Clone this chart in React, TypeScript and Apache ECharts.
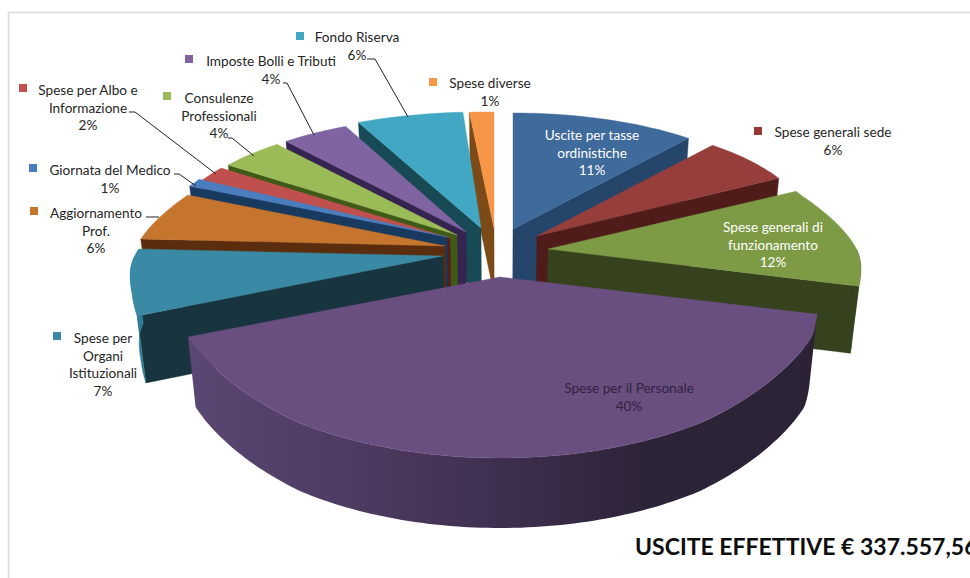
import React, { useEffect, useRef } from "react";
import * as echarts from "echarts";

const categories = [
  "Uscite per tasse\nordinistiche",
  "Spese generali sede",
  "Spese generali di\nfunzionamento",
  "Spese per il Personale",
  "Spese per\nOrgani\nIstituzionali",
  "Aggiornamento\nProf.",
  "Giornata del Medico",
  "Spese per Albo e\nInformazione",
  "Consulenze\nProfessionali",
  "Imposte Bolli e Tributi",
  "Fondo Riserva",
  "Spese diverse",
];
const values = [11, 6, 12, 40, 7, 6, 1, 2, 4, 4, 6, 1];
const titleText = "USCITE EFFETTIVE € 337.557,56";

const topColors = ["#3f6a9c", "#953e3c", "#7d9a45", "#694e80", "#3b8aa5", "#c6752f", "#4a7ebf", "#c0504d", "#9bbb59", "#8064a2", "#41a7c3", "#f79646"];
const wallColors = ["#26456b", "#4f1c1a", "#36411d", "#2d2338", "#17343f", "#5a2d0e", "#173a5e", "#5a1c1a", "#3f5a17", "#35244f", "#174a54", "#7c4a16"];
const rimColors = ["#26456b", "#6a2a28", "#36411d", "#463557", "#2d7d96", "#5a2d0e", "#173a5e", "#5a1c1a", "#3f5a17", "#35244f", "#174a54", "#7c4a16"];
const swatchColors = ["#3f6a9c", "#953735", "#9bbb59", "#694e80", "#3b8aa5", "#c6752f", "#4a7ebf", "#c0504d", "#9bbb59", "#8064a2", "#41a7c3", "#f79646"];

// layout of the exploded perspective pie
const center = [480, 240];
const sliceOffset = [[33, -11], [57, -4], [68, 9], [20, 37], [-37, 16], [-35, 6], [-33, -3], [-30, -2], [-23, -5], [-14, -8], [1, -12], [14, -12]];
const radiusXScale = [0.975, 0.975, 1, 1.02, 1, 1, 1, 1, 1, 1, 1.02, 1.39];
const sliceDepth = [67, 67, 67, 70, 67, 67, 67, 67, 67, 67, 67, 67];
const paintOrder = [11, 10, 9, 8, 7, 6, 5, 4, 0, 1, 2, 3];
const radiusXByCos = [[-1, 338], [-0.8, 335], [-0.37, 329], [-0.25, 321], [-0.1, 314], [0.06, 305], [0.45, 283], [1, 282]];
const radiusYByCos = [[-1, 181], [-0.8, 180], [-0.37, 163], [-0.25, 150], [0.06, 112], [0.2, 115], [0.45, 120], [1, 116]];
const VANISH_X = 500;
const SHRINK = 0.024;

// label layout: centre x, first-line y, swatch x, swatch y, colour
const labelLayout: any[] = [
  [592, 135, null, null, "#ffffff"],
  [833, 132, 758, 131, "#262626"],
  [773, 227, null, null, "#ffffff"],
  [629, 388, null, null, "#2f2540"],
  [103, 338, 57, 336, "#262626"],
  [96, 213, 34, 211, "#262626"],
  [110, 170, 33, 168, "#262626"],
  [88, 90, 23, 88, "#262626"],
  [219, 98, 167, 96, "#262626"],
  [271, 61, 189, 59, "#262626"],
  [357, 37, 300, 36, "#262626"],
  [490, 83, 433, 82, "#262626"],
];
const leaderLines = [
  [[367, 59], [375, 59], [408, 117]],
  [[283, 83], [287, 83], [314, 135]],
  [[228, 138], [232, 138], [254, 156]],
  [[129, 112], [135, 112], [216, 174]],
  [[174, 174], [179, 174], [196, 186]],
  [[146, 217], [159, 217]],
];

const total = values.reduce((a, b) => a + b, 0);
const startAngles = values.map((_, i) => (values.slice(0, i).reduce((a, b) => a + b, 0) / total) * 2 * Math.PI);
const endAngles = values.map((v, i) => startAngles[i] + (v / total) * 2 * Math.PI);

function lookup(table: number[][], c: number) {
  for (let i = 0; i < table.length - 1; i++) {
    const [c0, r0] = table[i];
    const [c1, r1] = table[i + 1];
    if (c <= c1) return r0 + ((r1 - r0) * (c - c0)) / (c1 - c0);
  }
  return table[table.length - 1][1];
}

function rimPoint(i: number, a: number) {
  const c = Math.cos(a);
  const ax = center[0] + sliceOffset[i][0];
  const ay = center[1] + sliceOffset[i][1];
  return [ax + lookup(radiusXByCos, c) * radiusXScale[i] * Math.sin(a), ay - lookup(radiusYByCos, c) * c];
}
const lower = (p: number[], i: number) => [p[0] + (VANISH_X - p[0]) * SHRINK, p[1] + sliceDepth[i]];

function arcPoints(i: number, from: number, to: number) {
  const n = Math.max(2, Math.ceil((to - from) / 0.02));
  const pts: number[][] = [];
  for (let k = 0; k <= n; k++) pts.push(rimPoint(i, from + ((to - from) * k) / n));
  return pts;
}

function renderSlice(params: any) {
  const i = paintOrder[params.dataIndex];
  const a0 = startAngles[i];
  const a1 = endAngles[i];
  const apex = [center[0] + sliceOffset[i][0], center[1] + sliceOffset[i][1]];
  const apexLow = lower(apex, i);
  const children: any[] = [];
  const poly = (points: number[][], fill: any, z: number) => ({
    type: "polygon",
    z2: params.dataIndex * 10 + z,
    shape: { points },
    style: { fill, stroke: typeof fill === "string" ? fill : undefined, lineWidth: typeof fill === "string" ? 0.4 : 0 },
    silent: true,
  });
  if (a1 < Math.PI) {
    const p = rimPoint(i, a1);
    children.push(poly([apex, p, lower(p, i), apexLow], wallColors[i], 1));
  }
  if (a0 > Math.PI) {
    const p = rimPoint(i, a0);
    children.push(poly([apex, p, lower(p, i), apexLow], wallColors[i], 1));
  }
  const f0 = Math.max(a0, Math.PI / 2);
  const f1 = Math.min(a1, (3 * Math.PI) / 2);
  if (f1 > f0) {
    const top = arcPoints(i, f0, f1);
    const isMain = values[i] === Math.max(...values);
    const fill = isMain
      ? {
          type: "linear", x: 0, y: 0, x2: 1, y2: 0,
          colorStops: [
            { offset: 0, color: "#5a4773" },
            { offset: 0.28, color: "#4c3a60" },
            { offset: 0.5, color: "#3f2f4f" },
            { offset: 0.72, color: "#2e2439" },
            { offset: 1, color: "#2b2235" },
          ],
        }
      : rimColors[i];
    children.push(poly([...top, ...top.map((p) => lower(p, i)).reverse()], fill, 2));
  }
  children.push(poly([apex, ...arcPoints(i, a0, a1)], topColors[i], 3));
  return { type: "group", children };
}

function buildGraphics() {
  const els: any[] = [
    {
      type: "rect", silent: true, z: 0,
      shape: { x: 8.5, y: 12.5, width: 1100, height: 700 },
      style: { fill: "#ffffff", stroke: "#d9d9d9", lineWidth: 1.5 },
    },
  ];
  categories.forEach((name, i) => {
    const [x, y, sx, sy, color] = labelLayout[i];
    els.push({
      type: "text", silent: true, z: 20, x, y: y - 9,
      style: {
        text: `${name}\n${values[i]}%`,
        fill: color,
        font: "13.6px Lato, 'Open Sans', sans-serif",
        lineHeight: 17.7,
        align: "center",
        verticalAlign: "top",
      },
    });
    if (sx !== null) {
      els.push({
        type: "rect", silent: true, z: 20,
        shape: { x: sx - 4, y: sy - 4, width: 8, height: 8 },
        style: { fill: swatchColors[i] },
      });
    }
  });
  leaderLines.forEach((points) => {
    els.push({
      type: "polyline", silent: true, z: 20,
      shape: { points },
      style: { fill: "none", stroke: "#222222", lineWidth: 1 },
    });
  });
  els.push({
    type: "text", silent: true, z: 20, x: 635, y: 546,
    style: { text: titleText, fill: "#0d0d0d", font: "bold 23px Lato, sans-serif", align: "left", verticalAlign: "middle" },
  });
  return els;
}

export default function App() {
  const ref = useRef<HTMLDivElement>(null);
  useEffect(() => {
    document.body.style.margin = "0";
    document.body.style.background = "#ffffff";
    const chart = echarts.init(ref.current!, undefined, { renderer: "svg" });
    chart.setOption({
      animation: false,
      backgroundColor: "#ffffff",
      graphic: { elements: buildGraphics() },
      series: [
        {
          type: "custom",
          coordinateSystem: "none",
          silent: true,
          z: 5,
          data: paintOrder.map((i) => ({ name: categories[i].replace(/\n/g, " "), value: values[i] })),
          renderItem: renderSlice,
        },
      ],
    });
    return () => chart.dispose();
  }, []);
  return <div ref={ref} style={{ width: 970, height: 578, overflow: "hidden" }} />;
}
